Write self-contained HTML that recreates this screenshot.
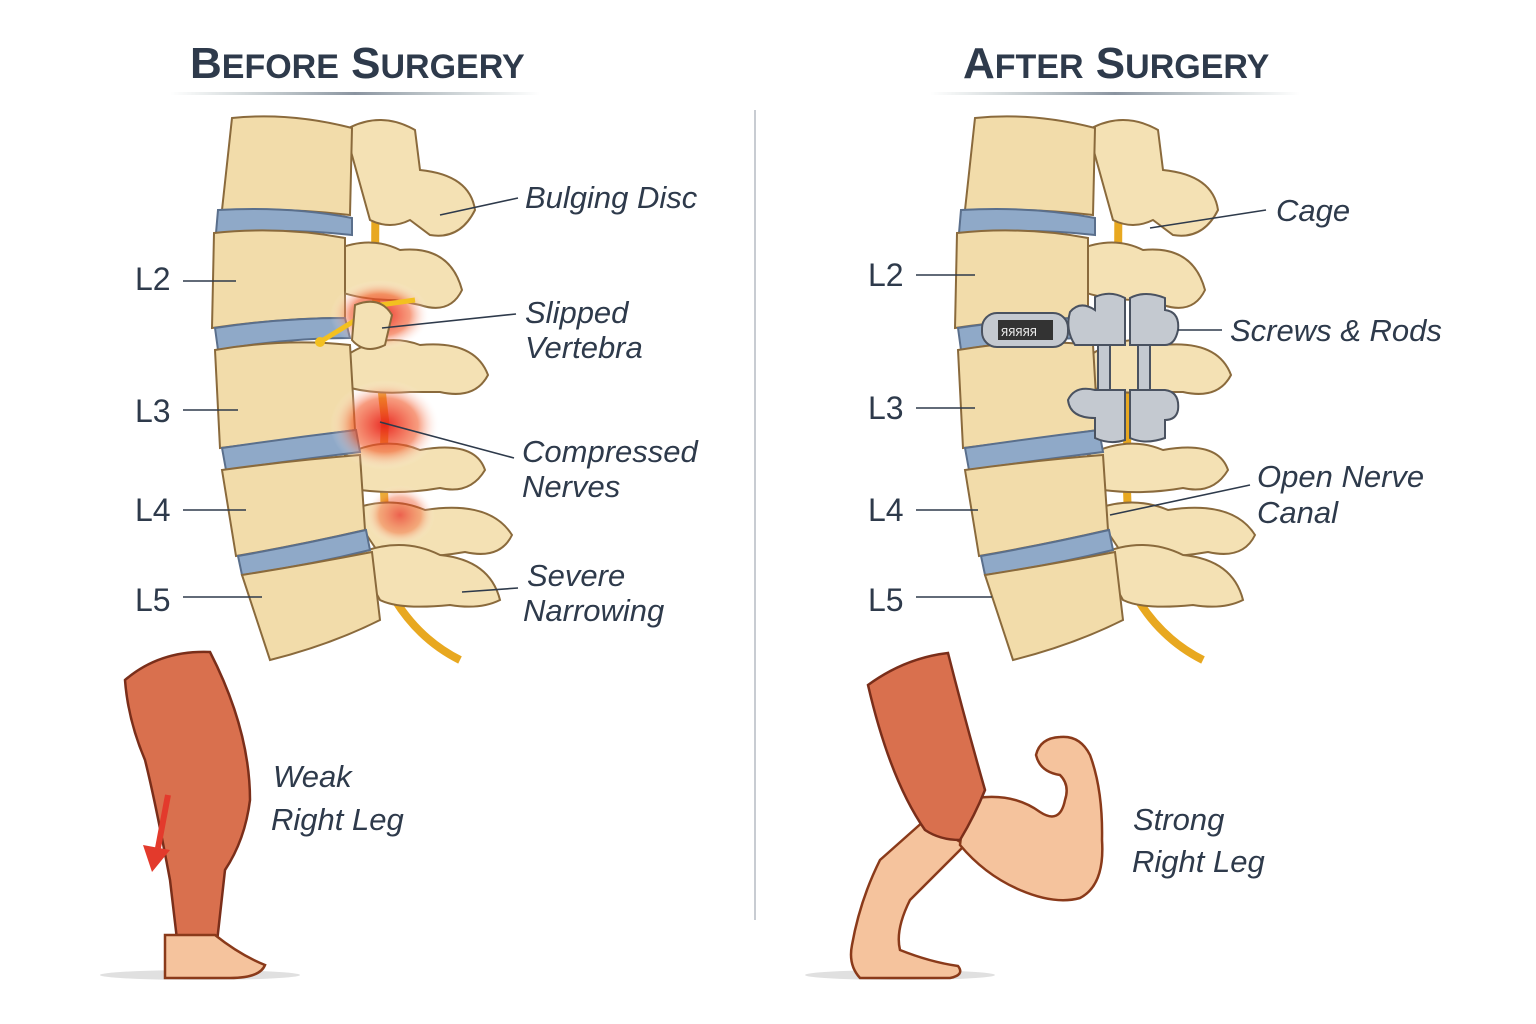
<!DOCTYPE html>
<html><head><meta charset="utf-8"><style>
html,body{margin:0;padding:0;background:#fff}
svg{display:block}
.t{font-family:"Liberation Sans",sans-serif;font-weight:bold;fill:#2e3a4b}
.l{font-family:"Liberation Sans",sans-serif;font-style:italic;fill:#2e3a4b;font-size:31px}
.v{font-family:"Liberation Sans",sans-serif;fill:#2e3a4b;font-size:32px}
.ln{stroke:#2e3a4b;stroke-width:1.6;fill:none}
.b{fill:#f2dcaa;stroke:#8a6a3c;stroke-width:2}
.d{fill:#8fa9c8;stroke:#5a6f8c;stroke-width:2}
.p{fill:#f4e1b4;stroke:#8a6a3c;stroke-width:2}
.m{fill:#d9704e;stroke:#7a2e1a;stroke-width:2.5}
.s{fill:#f5c39d;stroke:#8a3a1a;stroke-width:2.5}
.mt{fill:#c4c9d0;stroke:#4a5260;stroke-width:2}
</style></head><body>
<svg width="1536" height="1024" viewBox="0 0 1536 1024" xmlns="http://www.w3.org/2000/svg">
<defs>
<radialGradient id="inf" cx="50%" cy="50%" r="50%"><stop offset="0" stop-color="#e8201a" stop-opacity=".95"/><stop offset=".6" stop-color="#f25a2a" stop-opacity=".6"/><stop offset="1" stop-color="#ffffff" stop-opacity="0"/></radialGradient>
<linearGradient id="ul" x1="0" x2="1"><stop offset="0" stop-color="#9aa" stop-opacity="0"/><stop offset=".5" stop-color="#8a94a0"/><stop offset="1" stop-color="#9aa" stop-opacity="0"/></linearGradient>
<g id="spine">
<path d="M378 120 Q370 300 385 420 Q380 520 395 600 Q420 640 460 660" fill="none" stroke="#e8a820" stroke-width="8"/>
<path class="p" d="M345 130 Q380 110 415 130 L420 170 Q470 175 475 210 Q460 240 430 235 L410 220 Q390 230 370 220 Z"/>
<path class="p" d="M335 250 Q370 235 400 250 Q450 245 462 290 Q450 315 420 305 L395 300 Q360 300 335 290 Z"/>
<path class="p" d="M340 360 Q380 330 420 345 Q475 340 488 375 Q475 400 440 392 L410 392 Q370 395 340 385 Z"/>
<path class="p" d="M345 455 Q385 435 420 450 Q475 440 485 470 Q470 495 440 488 Q400 495 360 490 Z"/>
<path class="p" d="M350 510 Q390 495 425 510 Q490 500 512 535 Q500 560 465 552 Q420 560 380 555 Z"/>
<path class="p" d="M355 555 Q400 535 440 555 Q490 560 500 600 Q480 610 450 605 Q400 610 380 600 Z"/>
<path class="b" d="M232 118 Q290 112 352 128 L350 215 Q290 208 222 210 Z"/>
<path class="d" d="M218 210 Q290 206 352 218 L352 235 Q290 228 216 233 Z"/>
<path class="b" d="M214 233 Q280 226 345 238 L345 318 Q280 318 212 328 Z"/>
<path class="d" d="M215 328 Q280 318 345 318 L350 338 Q285 338 218 350 Z"/>
<path class="b" d="M215 350 Q285 338 350 345 L355 430 Q285 440 220 448 Z"/>
<path class="d" d="M222 448 Q290 438 356 430 L360 452 Q295 460 226 470 Z"/>
<path class="b" d="M222 470 Q295 460 360 455 L365 530 Q300 545 236 556 Z"/>
<path class="d" d="M238 556 Q300 545 366 530 L370 550 Q305 566 242 575 Z"/>
<path class="b" d="M242 575 Q305 565 372 552 L380 620 Q330 645 270 660 Z"/>
</g>
</defs>

<text class="t" x="190" y="78" font-size="44">B<tspan font-size="34">EFORE</tspan> S<tspan font-size="34">URGERY</tspan></text>
<rect x="170" y="92" width="370" height="3" fill="url(#ul)"/>
<text class="t" x="963" y="78" font-size="44">A<tspan font-size="34">FTER</tspan> S<tspan font-size="34">URGERY</tspan></text>
<rect x="930" y="92" width="370" height="3" fill="url(#ul)"/>
<line x1="755" y1="110" x2="755" y2="920" stroke="#c8ccd2" stroke-width="2"/>

<use href="#spine"/>
<ellipse cx="380" cy="315" rx="50" ry="35" fill="url(#inf)"/>
<ellipse cx="385" cy="425" rx="55" ry="45" fill="url(#inf)"/>
<ellipse cx="400" cy="515" rx="35" ry="30" fill="url(#inf)" opacity=".7"/>
<path d="M320 342 L380 305 L415 300" stroke="#f3c020" stroke-width="5" fill="none"/>
<circle cx="320" cy="342" r="5" fill="#f3c020"/>
<path class="p" d="M355 305 Q380 295 392 315 L385 345 Q365 355 352 340 Z"/>

<g class="v"><text x="135" y="290">L2</text><text x="135" y="422">L3</text><text x="135" y="521">L4</text><text x="135" y="611">L5</text></g>
<g class="ln"><line x1="183" y1="281" x2="236" y2="281"/><line x1="183" y1="410" x2="238" y2="410"/><line x1="183" y1="510" x2="246" y2="510"/><line x1="183" y1="597" x2="262" y2="597"/>
<line x1="440" y1="215" x2="518" y2="198"/><line x1="382" y1="328" x2="516" y2="314"/><line x1="380" y1="422" x2="514" y2="458"/><line x1="462" y1="592" x2="518" y2="588"/></g>
<g class="l"><text x="525" y="208">Bulging Disc</text><text x="525" y="323">Slipped</text><text x="525" y="358">Vertebra</text>
<text x="522" y="462">Compressed</text><text x="522" y="497">Nerves</text><text x="527" y="586">Severe</text><text x="523" y="621">Narrowing</text></g>

<ellipse cx="200" cy="975" rx="100" ry="5" fill="#ccc" opacity=".6"/>
<path class="m" d="M125 680 Q160 650 210 652 Q250 730 250 800 Q245 840 225 870 L215 960 L180 965 L170 880 Q155 800 145 760 Q128 720 125 680 Z"/>
<path class="s" d="M165 935 L215 935 Q240 955 265 965 Q260 978 230 978 L165 978 Z"/>
<path d="M168 795 L158 848" stroke="#e33a2c" stroke-width="6"/>
<polygon points="143,845 170,850 152,872" fill="#e33a2c"/>
<g class="l"><text x="273" y="787">Weak</text><text x="271" y="830">Right Leg</text></g>

<use href="#spine" transform="translate(743,0)"/>
<rect x="982" y="313" width="86" height="34" rx="15" class="mt"/>
<rect x="998" y="320" width="55" height="20" fill="#333"/>
<text x="1001" y="336" font-family="Liberation Mono,monospace" font-size="12" fill="#eee">ЯЯЯЯЯ</text>
<g>
<rect x="1098" y="325" width="12" height="80" class="mt"/><rect x="1138" y="325" width="12" height="80" class="mt"/>
<path class="mt" d="M1070 312 Q1080 300 1095 310 L1095 297 Q1110 290 1125 298 L1125 345 L1075 345 Q1065 330 1070 312 Z"/>
<path class="mt" d="M1130 298 Q1145 290 1165 298 L1165 310 Q1180 312 1178 330 Q1175 345 1165 345 L1130 345 Z"/>
<path class="mt" d="M1068 400 Q1075 385 1095 390 L1125 390 L1125 440 Q1110 445 1095 438 L1095 418 Q1070 418 1068 400 Z"/>
<path class="mt" d="M1130 390 L1165 390 Q1180 392 1178 410 Q1176 420 1165 420 L1165 438 Q1145 445 1130 438 Z"/>
</g>
<g class="v"><text x="868" y="286">L2</text><text x="868" y="419">L3</text><text x="868" y="521">L4</text><text x="868" y="611">L5</text></g>
<g class="ln"><line x1="916" y1="275" x2="975" y2="275"/><line x1="916" y1="408" x2="975" y2="408"/><line x1="916" y1="510" x2="978" y2="510"/><line x1="916" y1="597" x2="992" y2="597"/>
<line x1="1150" y1="228" x2="1266" y2="210"/><line x1="1178" y1="330" x2="1222" y2="330"/><line x1="1110" y1="515" x2="1250" y2="485"/></g>
<g class="l"><text x="1276" y="221">Cage</text><text x="1230" y="341">Screws &amp; Rods</text><text x="1257" y="487">Open Nerve</text><text x="1257" y="523">Canal</text></g>

<ellipse cx="900" cy="975" rx="95" ry="5" fill="#ccc" opacity=".6"/>
<!-- lower leg -->
<path class="s" d="M925 820 L965 845 Q930 880 910 900 Q895 930 900 950 Q930 962 958 966 Q965 975 950 978 L860 978 Q848 965 852 945 Q860 900 880 860 Z"/>
<!-- arm -->
<path class="s" d="M965 800 Q1010 790 1040 812 Q1060 825 1065 800 Q1070 785 1060 775 Q1040 772 1036 755 Q1040 738 1060 737 Q1080 735 1090 755 Q1103 790 1102 840 Q1105 885 1080 898 Q1055 905 1020 890 Q985 875 960 845 Z"/>
<!-- thigh -->
<path class="m" d="M868 685 Q905 658 948 653 Q965 720 985 790 Q975 815 960 840 Q940 840 925 830 Q890 780 868 685 Z"/>
<g class="l"><text x="1133" y="830">Strong</text><text x="1132" y="872">Right Leg</text></g>
</svg>
</body></html>
